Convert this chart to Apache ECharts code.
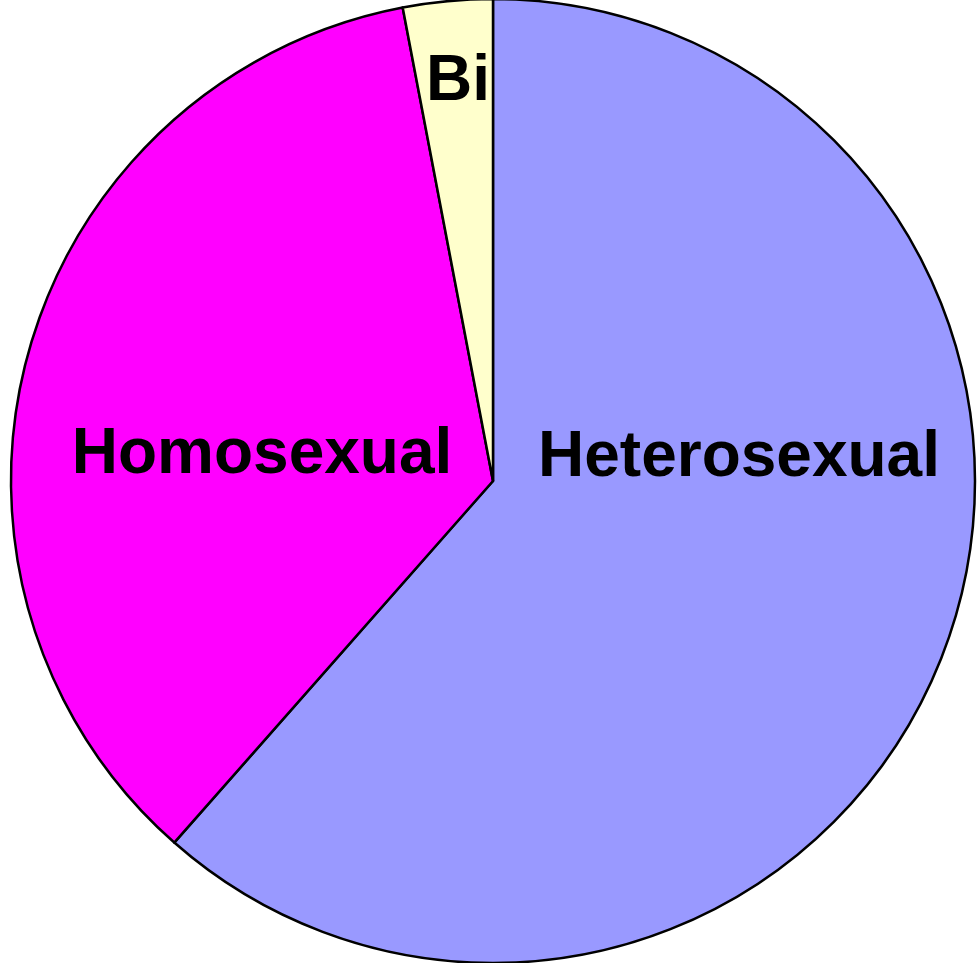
<!DOCTYPE html>
<html>
<head>
<meta charset="utf-8">
<script src="https://cdn.jsdelivr.net/npm/echarts@6/dist/echarts.min.js"></script>
<style>
html,body{margin:0;padding:0;background:#fff;}
#chart{width:980px;height:963px;}
</style>
</head>
<body>
<div id="chart"></div>
<script>
var categories = ['Heterosexual', 'Homosexual', 'Bi'];
var values = [61.5, 35.5, 3.0];
var colors = ['#9999FF', '#FF00FF', '#FFFFCC'];
// label anchor points (pixels) for each slice, as placed in the original
var labelPos = [[739, 458], [262, 455], [458, 82]];

var chart = echarts.init(document.getElementById('chart'), null, {renderer: 'canvas'});
chart.setOption({
  animation: false,
  backgroundColor: '#ffffff',
  series: [{
    type: 'pie',
    center: [493, 481],
    radius: 482,
    startAngle: 90,
    clockwise: true,
    avoidLabelOverlap: false,
    emphasis: {disabled: true},
    itemStyle: {borderColor: '#000000', borderWidth: 2.5},
    label: {
      show: true,
      position: 'inside',
      formatter: '{b}',
      color: '#000000',
      fontFamily: 'Liberation Sans, Arial, sans-serif',
      fontWeight: 'bold',
      fontSize: 64
    },
    labelLine: {show: false},
    labelLayout: function (p) {
      var pos = labelPos[p.dataIndex];
      return {x: pos[0], y: pos[1], align: 'center', verticalAlign: 'middle'};
    },
    data: categories.map(function (c, i) {
      return {name: c, value: values[i], itemStyle: {color: colors[i]}};
    })
  }]
});
</script>
</body>
</html>
